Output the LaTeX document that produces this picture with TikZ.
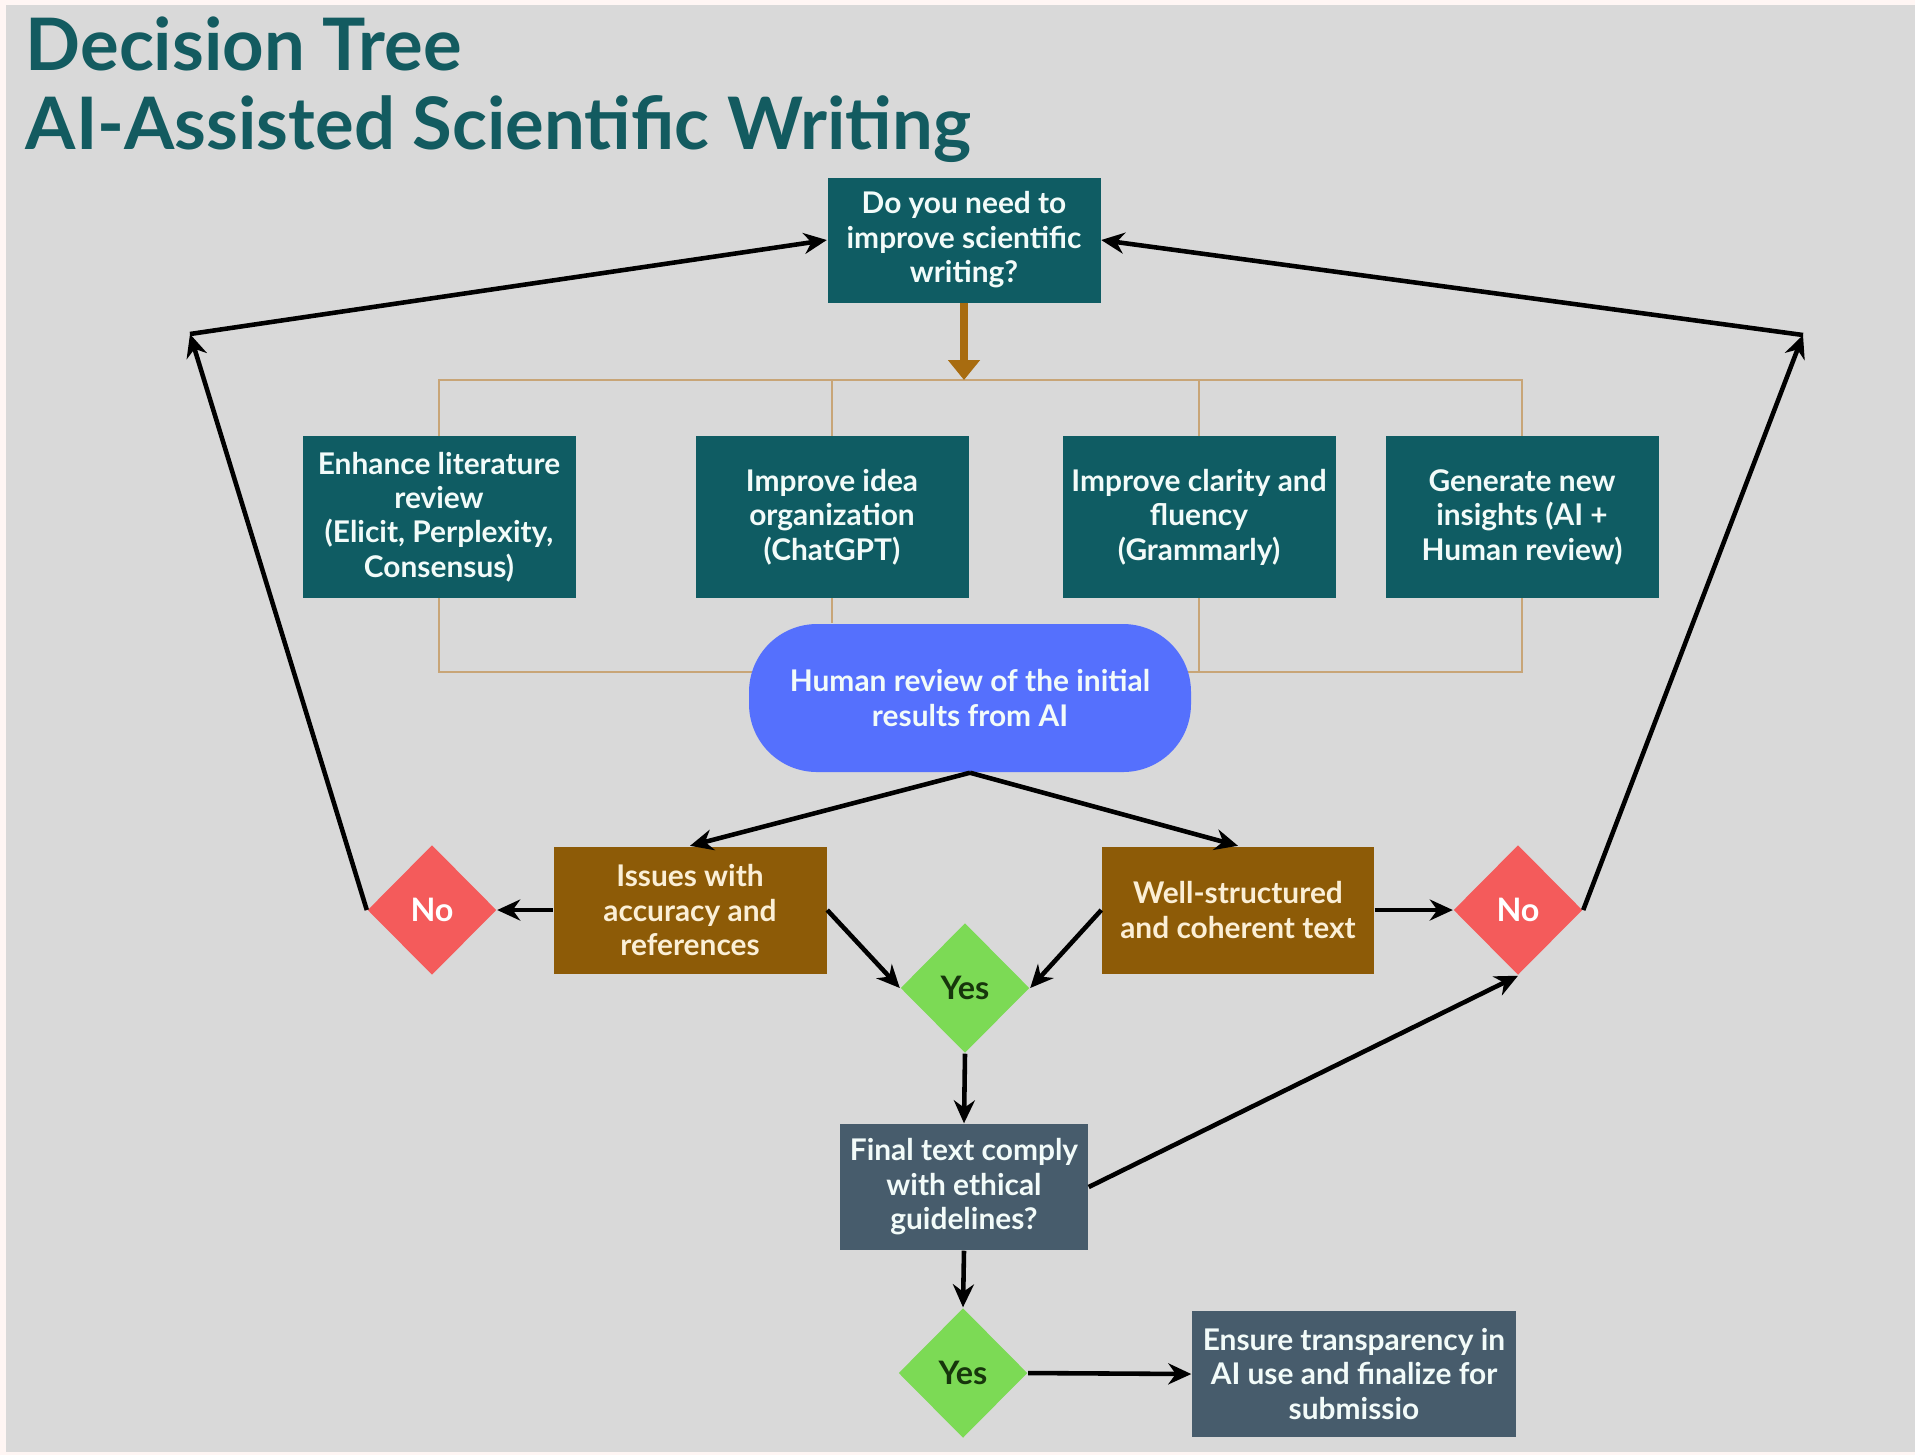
\documentclass[tikz,border=0pt]{standalone}
\usepackage{fontspec}
\setmainfont{Lato}
\usetikzlibrary{arrows.meta}
\usetikzlibrary{shapes.geometric}
\usetikzlibrary{calc,backgrounds}

\definecolor{bgcol}{HTML}{D9D9D9}
\definecolor{edgecol}{HTML}{FFF6F4}
\definecolor{titlecol}{HTML}{135B60}
\definecolor{tealbox}{HTML}{0F5C63}
\definecolor{boxtext}{HTML}{F2FBF9}
\definecolor{brownbox}{HTML}{8D5B07}
\definecolor{browntext}{HTML}{FBEFD6}
\definecolor{arrbrown}{HTML}{A86C10}
\definecolor{bracketcol}{HTML}{C8A577}
\definecolor{humblue}{HTML}{5570FD}
\definecolor{nored}{HTML}{F45B5B}
\definecolor{yesgreen}{HTML}{7CDA55}
\definecolor{yestext}{HTML}{17360C}
\definecolor{slatebox}{HTML}{475C6C}

\newcommand\boxfont{\fontsize{8.5}{9.8}\selectfont\bfseries}
\newcommand\titlefont{\fontsize{20.6}{24}\selectfont\bfseries}

\begin{document}
\begin{tikzpicture}[x=0.1mm, y=-0.1mm,
  box/.style={rectangle, fill=tealbox, text=boxtext, font=\boxfont, align=center,
    inner sep=0pt, minimum width=27.3mm, minimum height=16.2mm},
  brownbox/.style={box, fill=brownbox, text=browntext, minimum height=12.7mm},
  slatebox/.style={box, fill=slatebox, minimum height=12.6mm},
  dia/.style={diamond, aspect=1, inner sep=0pt, minimum width=12.9mm, minimum height=13mm,
    font=\fontsize{9.2}{10}\selectfont\bfseries},
  noD/.style={dia, fill=nored, text=white},
  yesD/.style={dia, fill=yesgreen, text=yestext},
  arr/.style={line width=1.3pt, -{Stealth[length=2.3mm,width=2.1mm]}},
  bracket/.style={draw=bracketcol, line width=0.7pt}]
\useasboundingbox (0,0) rectangle (1915,1455);

% title
\node[anchor=base west, text=titlecol, font=\titlefont, inner sep=0pt]
  (t1) at (25,70) {Decision Tree};
\node[anchor=base west, text=titlecol, font=\titlefont, inner sep=0pt]
  (t2) at (25,149) {AI-Assisted Scientific Writing};

% question and tools
\node[box, minimum height=12.5mm] (q) at (964,240) {Do you need to\\improve scientific\\writing?};
\node[box] (lit) at (439,517) {Enhance literature\\review\\(Elicit, Perplexity,\\Consensus)};
\node[box] (idea) at (832,517) {Improve idea\\organization\\(ChatGPT)};
\node[box] (clar) at (1199,517) {Improve clarity and\\fluency\\(Grammarly)};
\node[box] (ins) at (1522,517) {Generate new\\insights (AI +\\Human review)};

\node[rectangle, rounded corners=6.8mm, fill=humblue, text=boxtext, font=\boxfont, align=center,
  minimum width=44.2mm, minimum height=14.8mm] (hum) at (970,698)
  {Human review of the initial\\results from AI};

% outcomes
\node[brownbox] (iss) at (690,910) {Issues with\\accuracy and\\references};
\node[brownbox, minimum width=27.2mm] (well) at (1238,910) {Well-structured\\and coherent text};
\node[noD] (noL) at (432,910) {No};
\node[noD] (noR) at (1518,910) {No};
\node[yesD] (yesA) at (965,988) {Yes};
\node[slatebox, minimum width=24.8mm] (fin) at (964,1187) {Final text comply\\with ethical\\guidelines?};
\node[yesD] (yesB) at (963,1373) {Yes};
\node[slatebox, minimum width=32.4mm] (ens) at (1354,1374) {Ensure transparency in\\AI use and finalize for\\submissio};

\coordinate (cL) at (190,334);
\coordinate (cR) at (1803,335);
\coordinate (bT) at (0,380);
\coordinate (bB) at (0,672);

\begin{scope}[on background layer]
  \fill[edgecol] (0,0) rectangle (1915,1455);
  \fill[bgcol] (6,5) rectangle (1915,1452);
  \draw[bracket] (lit|-bT) -- (ins|-bT) -- (ins|-bB) -- (lit|-bB) -- cycle;
  \draw[bracket] (idea|-bT) -- (idea|-hum.north);
  \draw[bracket] (clar|-bT) -- (clar|-bB);
\end{scope}

\draw[arrbrown, line width=2pt, -{Triangle[length=2mm,width=3.1mm]}] (q.south) -- (q|-bT);

\draw[arr] (hum.south) -- (iss.north);
\draw[arr] (hum.south) -- (well.north);
\draw[arr] (iss.west) -- (noL.east);
\draw[arr] (well.east) -- (noR.west);
\draw[arr] (iss.east) -- (yesA.west);
\draw[arr] (well.west) -- (yesA.east);
\draw[arr] (noL.west) -- (cL);
\draw[arr] (cL) -- (q.west);
\draw[arr] (noR.east) -- (cR);
\draw[arr] (cR) -- (q.east);
\draw[arr] (yesA.south) -- (fin.north);
\draw[arr] (fin.east) -- (noR.south);
\draw[arr] (fin.south) -- (yesB.north);
\draw[arr] (yesB.east) -- (ens.west);
\end{tikzpicture}
\end{document}
